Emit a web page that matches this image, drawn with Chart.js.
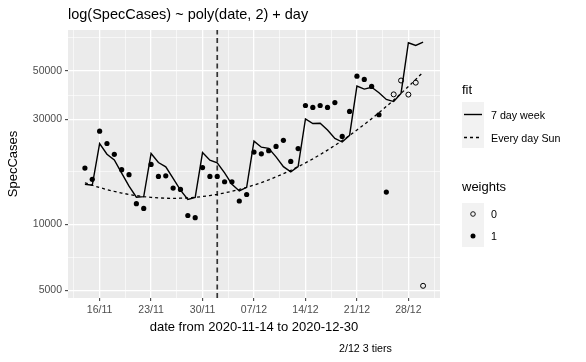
<!DOCTYPE html>
<html>
<head>
<meta charset="utf-8">
<script src="https://cdn.jsdelivr.net/npm/chart.js@4.4.1/dist/chart.umd.min.js"></script>
<style>
  html, body { margin: 0; padding: 0; background: #fff; }
  #wrap { position: relative; width: 586px; height: 362px; font-family: "Liberation Sans", Arial, sans-serif; color: #000; }
  #wrap canvas { position: absolute; left: 0; top: 0; }
  .lab { position: absolute; white-space: nowrap; height: 20px; line-height: 20px; }
  .key { position: absolute; background: #f2f2f2; }
  .key svg { display: block; }
</style>
</head>
<body>
<div id="wrap">
  <canvas id="chart" width="586" height="362"></canvas>
  <div class="lab" style="left:68px; top:4px; font-size:14.5px;">log(SpecCases) ~ poly(date, 2) + day</div>
  <div class="lab" style="left:339px; top:338px; font-size:10.7px;">2/12 3 tiers</div>

  <div class="lab" style="left:462px; top:80px; font-size:13px;">fit</div>
  <div class="key" style="left:462px; top:102px; width:22px; height:46px;">
    <svg width="22" height="46">
      <line x1="2" y1="12.5" x2="20" y2="12.5" stroke="#000" stroke-width="1.4"/>
      <line x1="2" y1="35.5" x2="20" y2="35.5" stroke="#000" stroke-width="1.3" stroke-dasharray="3 3"/>
    </svg>
  </div>
  <div class="lab" style="left:491px; top:104.5px; font-size:10.7px;">7 day week</div>
  <div class="lab" style="left:491px; top:127.5px; font-size:10.7px;">Every day Sun</div>

  <div class="lab" style="left:462px; top:177px; font-size:13px;">weights</div>
  <div class="key" style="left:462px; top:203px; width:22px; height:44px;">
    <svg width="22" height="44">
      <circle cx="11" cy="11" r="2.3" fill="none" stroke="#000" stroke-width="0.9"/>
      <circle cx="11" cy="33" r="2.5" fill="#000"/>
    </svg>
  </div>
  <div class="lab" style="left:491px; top:204px; font-size:10.7px;">0</div>
  <div class="lab" style="left:491px; top:226px; font-size:10.7px;">1</div>
</div>
<script>
// daily data, 2020-11-14 .. 2020-12-30
const dates = [
  '2020-11-14','2020-11-15','2020-11-16','2020-11-17','2020-11-18','2020-11-19','2020-11-20',
  '2020-11-21','2020-11-22','2020-11-23','2020-11-24','2020-11-25','2020-11-26','2020-11-27',
  '2020-11-28','2020-11-29','2020-11-30','2020-12-01','2020-12-02','2020-12-03','2020-12-04',
  '2020-12-05','2020-12-06','2020-12-07','2020-12-08','2020-12-09','2020-12-10','2020-12-11',
  '2020-12-12','2020-12-13','2020-12-14','2020-12-15','2020-12-16','2020-12-17','2020-12-18',
  '2020-12-19','2020-12-20','2020-12-21','2020-12-22','2020-12-23','2020-12-24','2020-12-25',
  '2020-12-26','2020-12-27','2020-12-28','2020-12-29','2020-12-30'
];
const specCases = [
  18000,16000,26500,23300,20800,17700,16800,12400,11800,18700,16500,16600,14600,14400,
  10950,10700,18100,16500,16500,15600,15600,12750,13650,21300,20900,21600,22600,24100,
  19300,22100,34700,34000,34700,34000,35800,25100,32600,47200,45600,42400,31500,14000,
  39000,45100,38900,44100,5240
];
const weights = [
  1,1,1,1,1,1,1,1,1,1,1,1,1,1,1,1,1,1,1,1,1,1,1,1,1,1,1,1,1,1,1,1,1,1,1,1,1,1,1,1,1,1,
  0,0,0,0,0
];
const fit7day = [
  15190,15040,23270,20820,19600,17090,14900,13270,13350,20990,19080,18250,16160,14300,
  12960,13250,21180,19560,19000,17110,15180,14160,14710,23890,22420,22130,20250,18270,
  17310,18270,30130,28730,28830,26810,24560,23660,25370,42540,41200,42010,39680,36960,
  36160,39400,66990,65100,67400
];
const fitEverySun = [
  15440,15040,14680,14370,14100,13860,13660,13490,13350,13240,13170,13130,13110,13130,
  13170,13250,13360,13500,13670,13880,14110,14390,14710,15070,15470,15920,16420,16980,
  17590,18270,19010,19830,20740,21740,22830,24040,25370,26840,28430,30220,32180,34350,
  36750,39400,42330,45600,49240
];
const xTickDates = ['2020-11-16','2020-11-23','2020-11-30','2020-12-07','2020-12-14','2020-12-21','2020-12-28'];
const xTickLabels = ['16/11','23/11','30/11','07/12','14/12','21/12','28/12'];
const yTicks = [5000, 10000, 30000, 50000];
const tierDate = '2020-12-02';

const FONT = '"Liberation Sans", Arial, sans-serif';
const day = d => (Date.parse(d) - Date.parse(dates[0])) / 86400000;
const xs = dates.map(day);

// ggplot style 5% expansion
const xLo = xs[0], xHi = xs[xs.length - 1];
const xMin = xLo - (xHi - xLo) * 0.05, xMax = xHi + (xHi - xLo) * 0.05;
const allY = specCases.concat(fit7day, fitEverySun).map(Math.log10);
const lLo = Math.min(...allY), lHi = Math.max(...allY);
const yMin = Math.pow(10, lLo - (lHi - lLo) * 0.05);
const yMax = Math.pow(10, lHi + (lHi - lLo) * 0.05);

// major + minor grid positions
const xMajor = xTickDates.map(day);
const xStep = xMajor[1] - xMajor[0];
const xGrid = [];
[xMajor[0] - xStep].concat(xMajor).forEach((v, i) => {
  if (i > 0) xGrid.push({ value: v, minor: false, label: xTickLabels[i - 1] });
  const m = v + xStep / 2;
  if (m > xMin && m < xMax) xGrid.push({ value: m, minor: true });
});
xGrid.sort((a, b) => a.value - b.value);

const yLog = yTicks.map(Math.log10);
const yExt = [yLog[0] - (yLog[1] - yLog[0])].concat(yLog, [yLog[yLog.length - 1] + (yLog[1] - yLog[0])]);
const yGrid = yTicks.map(v => ({ value: v, minor: false }));
for (let i = 0; i < yExt.length - 1; i++) {
  const m = Math.pow(10, (yExt[i] + yExt[i + 1]) / 2);
  if (m > yMin && m < yMax) yGrid.push({ value: m, minor: true });
}
yGrid.sort((a, b) => a.value - b.value);

const panelBg = {
  id: 'panelBg',
  beforeDraw(chart) {
    const { ctx, chartArea: a } = chart;
    ctx.save();
    ctx.fillStyle = '#ebebeb';
    ctx.fillRect(a.left, a.top, a.right - a.left, a.bottom - a.top);
    ctx.restore();
  }
};

const isMinor = c => c.tick && c.tick.minor;

new Chart(document.getElementById('chart'), {
  type: 'scatter',
  data: {
    datasets: [
      {
        label: 'weights 1',
        data: xs.map((x, i) => ({ x, y: specCases[i] })).filter((p, i) => weights[i] === 1),
        pointRadius: 2.6, pointBackgroundColor: '#000', pointBorderWidth: 0
      },
      {
        label: 'weights 0',
        data: xs.map((x, i) => ({ x, y: specCases[i] })).filter((p, i) => weights[i] === 0),
        pointRadius: 2.5, pointBackgroundColor: 'rgba(0,0,0,0)', pointBorderColor: '#000', pointBorderWidth: 1
      },
      {
        label: '7 day week',
        data: xs.map((x, i) => ({ x, y: fit7day[i] })),
        showLine: true, pointRadius: 0, borderColor: '#000', borderWidth: 1.4
      },
      {
        label: 'Every day Sun',
        data: xs.map((x, i) => ({ x, y: fitEverySun[i] })),
        showLine: true, pointRadius: 0, borderColor: '#000', borderWidth: 1.3, borderDash: [3, 3]
      },
      {
        label: 'tiers',
        data: [{ x: day(tierDate), y: yMin }, { x: day(tierDate), y: yMax }],
        showLine: true, pointRadius: 0, borderColor: '#333', borderWidth: 1.7, borderDash: [5, 3.5]
      }
    ]
  },
  options: {
    responsive: false,
    animation: false,
    events: [],
    layout: { padding: { left: 0, top: 30, right: 146, bottom: 0 } },
    plugins: { legend: { display: false }, tooltip: { enabled: false } },
    scales: {
      x: {
        type: 'linear',
        min: xMin,
        max: xMax,
        afterBuildTicks(scale) { scale.ticks = xGrid.map(g => ({ value: g.value, minor: g.minor, lab: g.label })); },
        afterFit(scale) { scale.height = 64; },
        ticks: {
          autoSkip: false, maxRotation: 0, padding: 3, color: '#4d4d4d',
          font: { family: FONT, size: 10.5 },
          callback: (v, i, ticks) => ticks[i].minor ? '' : ticks[i].lab
        },
        grid: {
          color: '#ffffff',
          lineWidth: c => isMinor(c) ? 0.6 : 1.3,
          tickColor: c => isMinor(c) ? 'rgba(0,0,0,0)' : '#333',
          tickLength: 3, tickWidth: 1
        },
        border: { display: false },
        title: {
          display: true, text: 'date from 2020-11-14 to 2020-12-30', color: '#000',
          font: { family: FONT, size: 13 }, padding: { top: 0, bottom: 27 }
        }
      },
      y: {
        type: 'logarithmic',
        min: yMin,
        max: yMax,
        afterBuildTicks(scale) { scale.ticks = yGrid.map(g => ({ value: g.value, minor: g.minor })); },
        afterFit(scale) { scale.width = 68; },
        ticks: {
          autoSkip: false, padding: 3, color: '#4d4d4d',
          font: { family: FONT, size: 10.5 },
          callback: (v, i, ticks) => ticks[i].minor ? '' : String(v)
        },
        grid: {
          color: '#ffffff',
          lineWidth: c => isMinor(c) ? 0.6 : 1.3,
          tickColor: c => isMinor(c) ? 'rgba(0,0,0,0)' : '#333',
          tickLength: 3, tickWidth: 1
        },
        border: { display: false },
        title: {
          display: true, text: 'SpecCases', color: '#000',
          font: { family: FONT, size: 13 }, padding: { top: 6, bottom: 0 }
        }
      }
    }
  },
  plugins: [panelBg]
});
</script>
</body>
</html>
